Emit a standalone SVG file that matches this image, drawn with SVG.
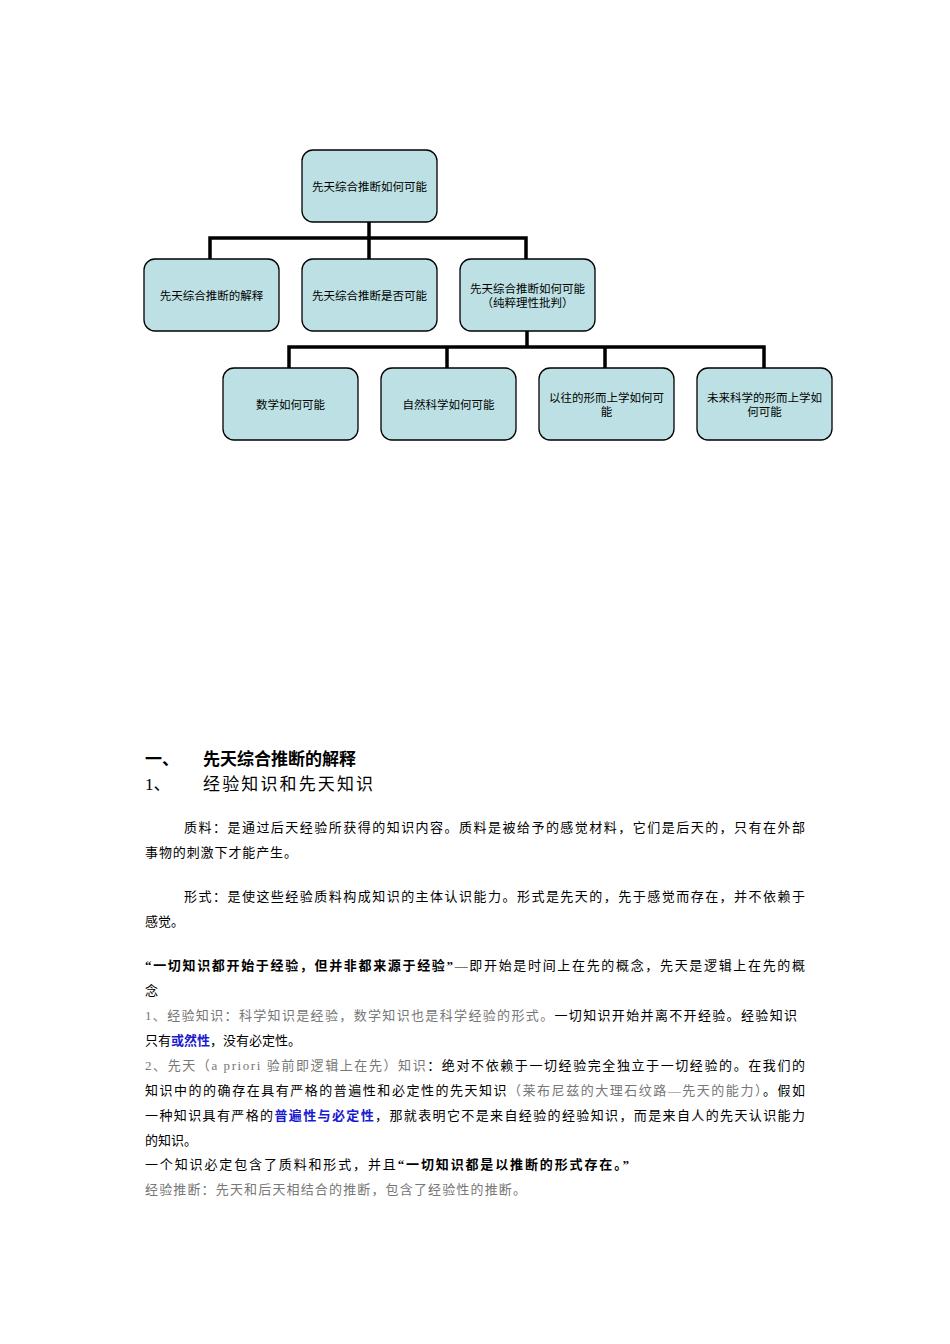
<svg xmlns="http://www.w3.org/2000/svg" width="950" height="1344" viewBox="0 0 950 1344">
<style>
.box{fill:#bce0e3;stroke:#000;stroke-width:1.3}
.bt{font-family:"Liberation Serif","Noto Sans CJK SC",serif;font-size:11.5px;text-anchor:middle;fill:#000}
.c{fill:none;stroke:#000;stroke-width:3.5}
.p{font-family:"Liberation Serif","Noto Sans CJK SC",serif;font-size:13px;fill:#000}
.g{fill:#777}
.b{font-weight:bold}
.bl{fill:#1a1ad0;font-weight:bold}
</style>
<rect width="950" height="1344" fill="#fff"/>
<g id="connectors">
<path class="c" d="M369 222V238M210 259V238H526V259M527 331V347M289 368V347H764V368M447 347V368M605 347V368M369 238V259"/>
</g>
<g id="n0"><rect class="box" x="302" y="150" width="135" height="72" rx="11"/><text class="bt" x="369.5" y="191">先天综合推断如何可能</text></g>
<g id="n1"><rect class="box" x="144" y="259" width="135" height="72" rx="11"/><text class="bt" x="211.5" y="300">先天综合推断的解释</text></g>
<g id="n2"><rect class="box" x="302" y="259" width="135" height="72" rx="11"/><text class="bt" x="369.5" y="300">先天综合推断是否可能</text></g>
<g id="n3"><rect class="box" x="460" y="259" width="135" height="72" rx="11"/><text class="bt" x="527.5" y="293">先天综合推断如何可能</text><text class="bt" x="527.5" y="307">（纯粹理性批判）</text></g>
<g id="n4"><rect class="box" x="223" y="368" width="135" height="72" rx="11"/><text class="bt" x="290.5" y="409">数学如何可能</text></g>
<g id="n5"><rect class="box" x="381" y="368" width="135" height="72" rx="11"/><text class="bt" x="448.5" y="409">自然科学如何可能</text></g>
<g id="n6"><rect class="box" x="539" y="368" width="135" height="72" rx="11"/><text class="bt" x="606.5" y="402">以往的形而上学如何可</text><text class="bt" x="606.5" y="416">能</text></g>
<g id="n7"><rect class="box" x="697" y="368" width="135" height="72" rx="11"/><text class="bt" x="764.5" y="402">未来科学的形而上学如</text><text class="bt" x="764.5" y="416">何可能</text></g>
<g id="text">
<text class="p b" x="145" y="765" style="font-size:17px">一、</text>
<text class="p b" x="203" y="765" style="font-size:17px">先天综合推断的解释</text>
<text class="p" x="145" y="790" style="font-size:17px">1、</text>
<text class="p" x="203" y="790" style="font-size:17px" textLength="170">经验知识和先天知识</text>
<text class="p" x="184" y="832" textLength="621">质料：是通过后天经验所获得的知识内容。质料是被给予的感觉材料，它们是后天的，只有在外部</text>
<text class="p" x="145" y="857" textLength="152">事物的刺激下才能产生。</text>
<text class="p" x="184" y="901" textLength="621">形式：是使这些经验质料构成知识的主体认识能力。形式是先天的，先于感觉而存在，并不依赖于</text>
<text class="p" x="145" y="926">感觉。</text>
<text class="p" x="145" y="970" textLength="660"><tspan class="b">“一切知识都开始于经验，但并非都来源于经验”</tspan>—即开始是时间上在先的概念，先天是逻辑上在先的概</text>
<text class="p" x="145" y="995">念</text>
<text class="p" x="145" y="1020" textLength="652"><tspan class="g">1、经验知识：科学知识是经验，数学知识也是科学经验的形式。</tspan>一切知识开始并离不开经验。经验知识</text>
<text class="p" x="145" y="1045">只有<tspan class="bl">或然性</tspan>，没有必定性。</text>
<text class="p" x="145" y="1070" textLength="660"><tspan class="g">2、先天（a priori 验前即逻辑上在先）知识</tspan>：绝对不依赖于一切经验完全独立于一切经验的。在我们的</text>
<text class="p" x="145" y="1095" textLength="660">知识中的的确存在具有严格的普遍性和必定性的先天知识<tspan class="g">（莱布尼兹的大理石纹路—先天的能力）</tspan>。假如</text>
<text class="p" x="145" y="1120" textLength="660">一种知识具有严格的<tspan class="bl">普遍性与必定性</tspan>，那就表明它不是来自经验的经验知识，而是来自人的先天认识能力</text>
<text class="p" x="145" y="1145">的知识。</text>
<text class="p" x="145" y="1169" textLength="484">一个知识必定包含了质料和形式，并且<tspan class="b">“一切知识都是以推断的形式存在。”</tspan></text>
<text class="p g" x="145" y="1194" textLength="381">经验推断：先天和后天相结合的推断，包含了经验性的推断。</text>
</g>
</svg>
